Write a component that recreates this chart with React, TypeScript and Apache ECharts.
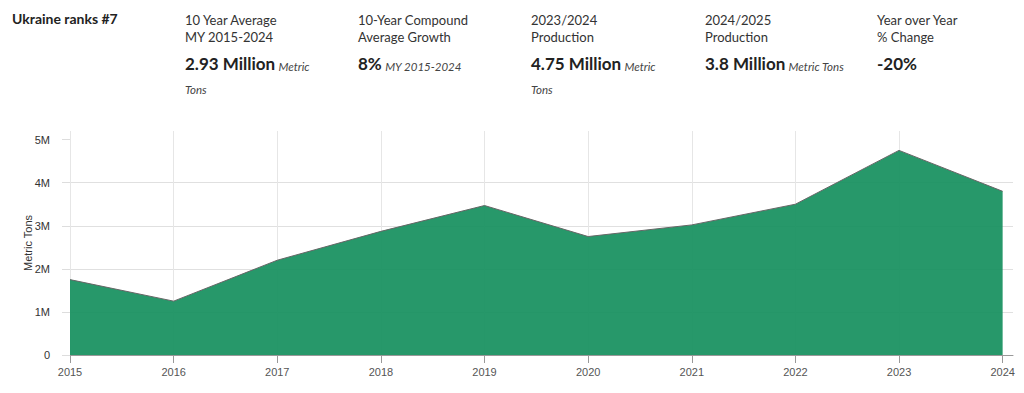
import React, { useEffect, useRef } from "react";
import * as echarts from "echarts";

const years = [2015, 2016, 2017, 2018, 2019, 2020, 2021, 2022, 2023, 2024];
const production = [1.75e6, 1.25e6, 2.2e6, 2.87e6, 3.47e6, 2.75e6, 3.02e6, 3.5e6, 4.75e6, 3.8e6];
const yTicks = [0, 1e6, 2e6, 3e6, 4e6, 5e6];
const yTickLabels = ["0", "1M", "2M", "3M", "4M", "5M"];

const headerTitle = "Ukraine ranks #7";
const statLabels = [
  ["10 Year Average", "MY 2015-2024"],
  ["10-Year Compound", "Average Growth"],
  ["2023/2024", "Production"],
  ["2024/2025", "Production"],
  ["Year over Year", "% Change"],
];
const statValues = ["2.93 Million", "8%", "4.75 Million", "3.8 Million", "-20%"];
const statUnits = [["Metric", "Tons"], ["MY 2015-2024", ""], ["Metric", "Tons"], ["Metric Tons", ""], ["", ""]];

const FONT = "Lato, 'Noto Sans', sans-serif";
const AXFONT = "'Liberation Sans', Arial, sans-serif";

export default function App() {
  const ref = useRef<HTMLDivElement>(null);
  useEffect(() => {
    if (!ref.current) return;
    const chart = echarts.init(ref.current, null, { renderer: "svg" });
    const colX = [185, 358, 531, 705, 877];
    const graphics: any[] = [
      {
        type: "text",
        x: 12,
        y: 11,
        style: { text: headerTitle, font: `bold 14px ${FONT}`, fill: "#222" },
      },
    ];
    statLabels.forEach((lines, i) => {
      graphics.push({
        type: "text",
        x: colX[i],
        y: 13,
        style: { text: lines[0], font: `13px ${FONT}`, fill: "#333" },
      });
      graphics.push({
        type: "text",
        x: colX[i],
        y: 30,
        style: { text: lines[1], font: `13px ${FONT}`, fill: "#333" },
      });
      graphics.push({
        type: "text",
        x: colX[i],
        y: 52,
        style: {
          text: statUnits[i][0]
            ? `{b|${statValues[i]}} {i|${statUnits[i][0]}}`
            : `{b|${statValues[i]}}`,
          rich: {
            b: { font: `bold 17px ${FONT}`, fill: "#222", color: "#222", verticalAlign: "bottom", lineHeight: 20 },
            i: { font: `italic 11.5px ${FONT}`, fill: "#444", color: "#444", verticalAlign: "bottom", lineHeight: 18 },
          },
        },
      });
      if (statUnits[i][1]) {
        graphics.push({
          type: "text",
          x: colX[i],
          y: 83,
          style: { text: statUnits[i][1], font: `italic 11.5px ${FONT}`, fill: "#444" },
        });
      }
    });

    chart.setOption({
      animation: false,
      graphic: graphics,
      grid: { left: 70, right: 11, top: 131, bottom: 38 },
      xAxis: {
        type: "value",
        min: 2015,
        max: 2024.1,
        interval: 1,
        axisLine: { show: true, lineStyle: { color: "#999" } },
        axisTick: { show: true, length: 8, lineStyle: { color: "#999" }, customValues: years },
        axisLabel: {
          color: "#555",
          fontSize: 11,
          fontFamily: AXFONT,
          margin: 11,
          customValues: years,
          formatter: (v: number) => String(v),
        },
        splitLine: { show: true, showMaxLine: false, lineStyle: { color: "#e6e6e6" } },
      },
      yAxis: {
        type: "value",
        min: 0,
        max: 5.2e6,
        interval: 1e6,
        name: "Metric Tons",
        nameLocation: "middle",
        nameGap: 37,
        nameMoveOverlap: false,
        nameTextStyle: { color: "#333", fontSize: 11, fontFamily: AXFONT },
        axisLine: { show: false },
        axisTick: { show: true, length: 8, lineStyle: { color: "#ddd" }, customValues: yTicks },
        axisLabel: {
          color: "#333",
          fontSize: 11,
          fontFamily: AXFONT,
          margin: 20,
          customValues: yTicks,
          formatter: (v: number) => yTickLabels[yTicks.indexOf(v)] ?? "",
        },
        splitLine: { show: true, showMaxLine: false, lineStyle: { color: "#e0e0e0" } },
      },
      series: [
        {
          type: "line",
          data: years.map((y, i) => [y, production[i]]),
          symbol: "none",
          lineStyle: { color: "#666", width: 1 },
          areaStyle: { color: "#17905f", opacity: 0.93 },
          z: 3,
        },
      ],
    });
    return () => chart.dispose();
  }, []);
  return (
    <div
      ref={ref}
      style={{ position: "absolute", left: 0, top: 0, width: 1024, height: 393, background: "#fff" }}
    />
  );
}
